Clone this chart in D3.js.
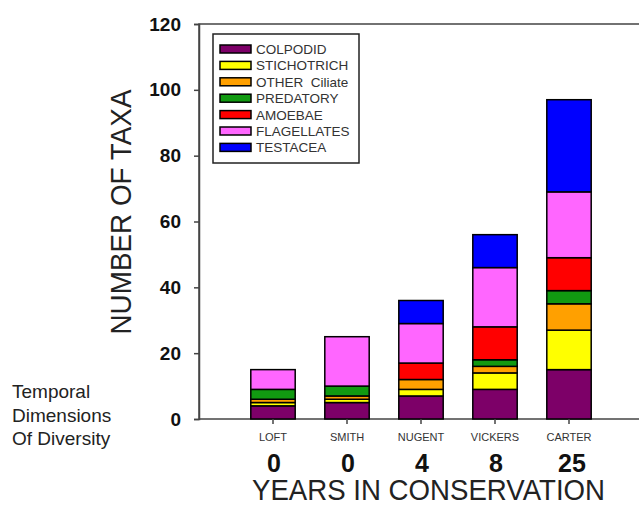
<!DOCTYPE html>
<html>
<head>
<meta charset="utf-8">
<script src="https://cdn.jsdelivr.net/npm/d3@7"></script>
<style>
  html, body { margin: 0; padding: 0; background: #fff; }
  svg { display: block; }
  text { font-family: "Liberation Sans", Arial, sans-serif; }
</style>
</head>
<body>
<svg id="chart" width="639" height="505"></svg>
<script>
const categories = ["LOFT", "SMITH", "NUGENT", "VICKERS", "CARTER"];
const years = ["0", "0", "4", "8", "25"];
const seriesNames = ["COLPODID", "STICHOTRICH", "OTHER  Ciliate", "PREDATORY", "AMOEBAE", "FLAGELLATES", "TESTACEA"];
const colpodid    = [4, 5, 7, 9, 15];
const stichotrich = [1, 1, 2, 5, 12];
const otherCiliate= [1, 1, 3, 2, 8];
const predatory   = [3, 3, 0, 2, 4];
const amoebae     = [0, 0, 5, 10, 10];
const flagellates = [6, 15, 12, 18, 20];
const testacea    = [0, 0, 7, 10, 28];
const yTicks = [0, 20, 40, 60, 80, 100, 120];
const colors = ["#7d0068", "#ffff00", "#ffa000", "#119a11", "#ff0000", "#ff66ff", "#0000ff"];

const seriesValues = [colpodid, stichotrich, otherCiliate, predatory, amoebae, flagellates, testacea];
const keys = seriesNames;
const table = categories.map((c, i) => {
  const row = { cat: c };
  keys.forEach((k, j) => row[k] = seriesValues[j][i]);
  return row;
});
const stacked = d3.stack().keys(keys)(table);

const svg = d3.select("#chart");
const pLeft = 199, pRight = 643, pTop = 24, pBottom = 419;

const x = d3.scaleBand().domain(categories).range([pLeft, pRight]).paddingInner(0.4).paddingOuter(0.7);
const y = d3.scaleLinear().domain([0, 120]).range([pBottom, pTop]);

// frame
svg.append("rect").attr("x", pLeft).attr("y", pTop).attr("width", pRight - pLeft + 20).attr("height", pBottom - pTop)
  .attr("fill", "none").attr("stroke", "#444").attr("stroke-width", 1.5);

// bars
const g = svg.append("g");
stacked.forEach((s, j) => {
  g.selectAll(null).data(s).enter().append("rect")
    .attr("x", d => x(d.data.cat))
    .attr("width", x.bandwidth())
    .attr("y", d => y(d[1]))
    .attr("height", d => y(d[0]) - y(d[1]))
    .attr("fill", colors[j])
    .attr("stroke", "#000")
    .attr("stroke-width", d => (d[1] - d[0]) > 0 ? 1.5 : 0);
});

// y axis
const yAxis = svg.append("g").attr("transform", `translate(${pLeft},0)`)
  .call(d3.axisLeft(y).tickValues(yTicks).tickSize(5).tickPadding(13));
yAxis.select(".domain").attr("stroke", "#444").attr("stroke-width", 1.5);
yAxis.selectAll(".tick line").attr("stroke", "#444").attr("stroke-width", 1.5);
yAxis.selectAll(".tick text").attr("font-size", 19).attr("font-weight", "bold").attr("fill", "#111")
  .attr("font-family", "Liberation Sans, Arial, sans-serif");

// x axis
const xAxis = svg.append("g").attr("transform", `translate(0,${pBottom})`)
  .call(d3.axisBottom(x).tickSize(5).tickPadding(9));
xAxis.select(".domain").remove();
xAxis.selectAll(".tick line").attr("stroke", "#444").attr("stroke-width", 1.5);
xAxis.selectAll(".tick text").attr("font-size", 11).attr("fill", "#333")
  .attr("font-family", "Liberation Sans, Arial, sans-serif");

// years
svg.append("g").selectAll("text").data(categories).enter().append("text")
  .attr("x", (d, i) => x(d) + x.bandwidth() / 2 + (years[i].length > 1 ? 3 : 1))
  .attr("y", 472)
  .attr("text-anchor", "middle")
  .attr("font-size", 25).attr("font-weight", "bold").attr("fill", "#111")
  .text((d, i) => years[i]);

// x title
svg.append("text").attr("x", 428.5).attr("y", 500).attr("text-anchor", "middle")
  .attr("font-size", 29).attr("fill", "#222")
  .attr("textLength", 353).attr("lengthAdjust", "spacingAndGlyphs")
  .text("YEARS IN CONSERVATION");

// y title
svg.append("text").attr("transform", "translate(131,212) rotate(-90)").attr("text-anchor", "middle")
  .attr("font-size", 29).attr("fill", "#222")
  .attr("textLength", 245).attr("lengthAdjust", "spacingAndGlyphs")
  .text("NUMBER OF TAXA");

// side note
const note = ["Temporal", "Dimensions", "Of Diversity"];
svg.append("g").selectAll("text").data(note).enter().append("text")
  .attr("x", 12).attr("y", (d, i) => 398 + i * 23.5)
  .attr("font-size", 19).attr("fill", "#222").text(d => d);

// legend
const lg = svg.append("g");
lg.append("rect").attr("x", 213).attr("y", 34).attr("width", 146).attr("height", 129)
  .attr("fill", "#fff").attr("stroke", "#222").attr("stroke-width", 1.5);
seriesNames.forEach((n, i) => {
  const cy = 49 + i * 16.4;
  lg.append("rect").attr("x", 220).attr("y", cy - 4).attr("width", 31).attr("height", 8)
    .attr("fill", colors[i]).attr("stroke", "#000").attr("stroke-width", 1.5);
  lg.append("text").attr("x", 256).attr("y", cy + 5).attr("font-size", 13.5).attr("fill", "#333")
    .attr("xml:space", "preserve").style("white-space", "pre").text(n);
});
</script>
</body>
</html>
